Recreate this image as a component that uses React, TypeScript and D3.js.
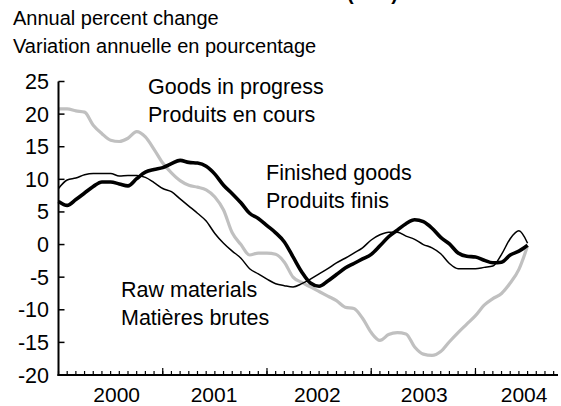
import React from 'react';
import * as d3 from 'd3';

// Monthly observations, first month = index 0 (mid-1999) through early 2004
const goodsInProgress = [
  20.8, 20.8, 20.5, 20.3, 18.3, 17.0, 16.0, 15.8, 16.3, 17.3,
  16.5, 14.6, 12.5, 11.0, 9.8, 9.1, 8.8, 8.4, 7.3, 5.3,
  1.8, 0.0, -1.6, -1.3, -1.3, -1.5, -2.7, -5.0, -5.8, -6.5,
  -7.2, -7.9, -8.6, -9.6, -9.8, -11.3, -13.5, -14.7, -13.8, -13.5,
  -13.7, -15.7, -16.8, -17.0, -16.4, -14.9, -13.5, -12.2, -10.9, -9.3,
  -8.3, -7.5, -5.9, -3.8, -0.2,
];
const finishedGoods = [
  6.6, 6.0, 6.9, 7.9, 8.9, 9.6, 9.6, 9.3, 9.0, 10.1,
  11.1, 11.5, 11.8, 12.4, 12.9, 12.6, 12.5, 12.0, 10.8, 9.1,
  7.8, 6.4, 4.8, 4.0, 2.9, 1.8, 0.4, -1.9, -4.2, -5.9,
  -6.4, -5.6, -4.6, -3.6, -2.9, -2.2, -1.5, -0.2, 1.2, 2.2,
  3.2, 3.8, 3.5, 2.5, 1.1, 0.1, -1.3, -1.8, -1.9, -2.4,
  -2.8, -2.7, -1.6, -1.0, -0.1,
];
const rawMaterials = [
  8.6, 9.9, 10.2, 10.7, 10.9, 10.9, 10.9, 10.5, 10.6, 10.6,
  10.3, 9.5, 8.6, 8.1, 7.0, 5.9, 4.8, 3.6, 1.7, 0.2,
  -1.0, -2.1, -3.7, -4.5, -5.3, -6.0, -6.3, -6.5, -6.0, -5.3,
  -4.5, -3.7, -2.8, -2.1, -1.3, -0.5, 0.7, 1.5, 1.9, 1.9,
  1.3, 0.8, 0.0, -0.5, -1.4, -2.9, -3.7, -3.7, -3.7, -3.5,
  -3.3, -1.5, 0.9, 2.1, 0.2,
];

const yTicks = [25, 20, 15, 10, 5, 0, -5, -10, -15, -20];
const yearLabels = ['2000', '2001', '2002', '2003', '2004'];
const yearLabelMonths = [6.7, 17.9, 29.8, 42.1, 53.6];
const majorTickMonths = [12, 24, 36, 48];
const minorTickMonths = d3.range(0, 58);

const FONT = '"Liberation Sans", Arial, Helvetica, sans-serif';

export default function App() {
  const x = d3.scaleLinear().domain([0, 57.5]).range([58.5, 558]);
  const y = d3.scaleLinear().domain([-20, 25]).range([375, 81.5]);

  const line = d3
    .line<number>()
    .x((_, i) => x(i))
    .y((d) => y(d))
    .curve(d3.curveMonotoneX);

  const x0 = x(0);
  const y0 = y(-20);

  return (
    <svg
      width={561}
      height={406}
      style={{ position: 'absolute', left: 0, top: 0, background: '#fff' }}
      fontFamily={FONT}
    >
      <rect x={0} y={0} width={561} height={406} fill="#fff" />
      {/* Title (cut off at the top in the original) */}
      <text x={398} y={0} textAnchor="end" fontSize={20} fontWeight="bold">
        Industrial Product Price Index (IPPI)
      </text>
      <text x={13} y={25} fontSize={20}>Annual percent change</text>
      <text x={13} y={53} fontSize={20}>Variation annuelle en pourcentage</text>

      {/* Series */}
      <path d={line(goodsInProgress) || ''} fill="none" stroke="#c0c0c0" strokeWidth={3.2} strokeLinejoin="round" />
      <path d={line(rawMaterials) || ''} fill="none" stroke="#000" strokeWidth={1.5} strokeLinejoin="round" />
      <path d={line(finishedGoods) || ''} fill="none" stroke="#000" strokeWidth={3.6} strokeLinejoin="round" />

      {/* Y axis */}
      <line x1={x0} x2={x0} y1={y(25)} y2={y0 + 1} stroke="#000" strokeWidth={2} />
      {yTicks.map((t) => (
        <g key={t}>
          <line x1={x0} x2={x0 + 6} y1={y(t)} y2={y(t)} stroke="#000" strokeWidth={1.5} />
          <text x={49} y={y(t) + 7.5} textAnchor="end" fontSize={21.5}>{t}</text>
        </g>
      ))}

      {/* X axis */}
      <line x1={x0 - 1} x2={558} y1={y0} y2={y0} stroke="#000" strokeWidth={2} />
      {minorTickMonths.map((m) => (
        <line key={'m' + m} x1={x(m)} x2={x(m)} y1={y0} y2={y0 - 4} stroke="#000" strokeWidth={1.2} />
      ))}
      {majorTickMonths.map((m) => (
        <line key={'M' + m} x1={x(m)} x2={x(m)} y1={y0} y2={y0 - 7} stroke="#000" strokeWidth={1.2} />
      ))}
      {yearLabels.map((l, i) => (
        <text key={l} x={x(yearLabelMonths[i])} y={402} textAnchor="middle" fontSize={21}>{l}</text>
      ))}

      {/* Series labels */}
      <text x={148} y={94} fontSize={21.5}>Goods in progress</text>
      <text x={148} y={122} fontSize={21.5}>Produits en cours</text>
      <text x={266} y={180} fontSize={21.5}>Finished goods</text>
      <text x={266} y={208} fontSize={21.5}>Produits finis</text>
      <text x={121} y={297} fontSize={21.5}>Raw materials</text>
      <text x={121} y={325} fontSize={21.5}>Matières brutes</text>
    </svg>
  );
}
